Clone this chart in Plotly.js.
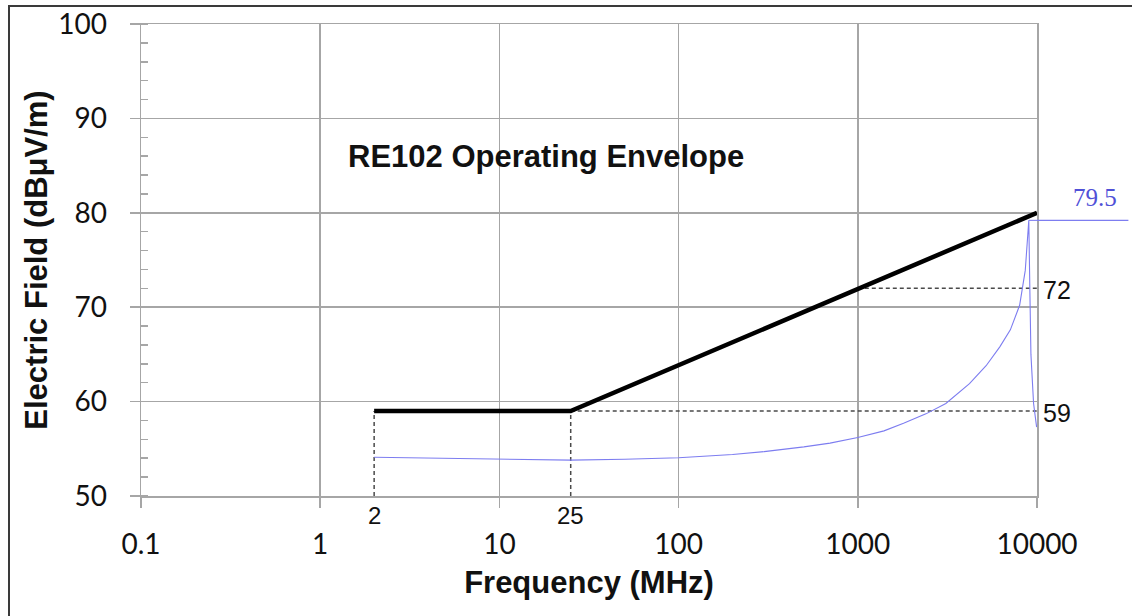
<!DOCTYPE html>
<html>
<head>
<meta charset="utf-8">
<script src="https://cdn.plot.ly/plotly-3.0.1.min.js"></script>
<style>
  html, body { margin: 0; padding: 0; background: #fff; }
  #wrap { position: relative; width: 1132px; height: 616px; overflow: hidden; }
  #chart { position: absolute; left: 0; top: 0; width: 1132px; height: 616px; }
  #frame { position: absolute; left: 8px; top: 5px; width: 1200px; height: 700px;
           border-left: 2px solid #3a3a3a; border-top: 2px solid #3a3a3a; pointer-events: none; }
</style>
</head>
<body>
<div id="wrap"><div id="chart"></div><div id="frame"></div></div>
<script>
// ---- data ----
const xTickVals = [0.1, 1, 10, 100, 1000, 10000];
const xTickText = ['0.1', '1', '10', '100', '1000', '10000'];

// RE102 limit envelope (MHz, dBµV/m)
const envFreq = [2, 25, 10000];
const envLevel = [59, 59, 80];

// dashed reference lines
const refVert2Freq = [2, 2];
const refVert2Level = [50, 59];
const refVert25Freq = [25, 25];
const refVert25Level = [50, 59];
const ref59Freq = [25, 10000];
const ref59Level = [59, 59];
const ref72Freq = [1000, 10000];
const ref72Level = [72, 72];

// blue measured/response curve
const measFreq = [2, 5, 10, 25, 50, 100, 200, 300, 500, 700, 1000, 1400, 1800, 2400, 3100, 4200, 5200, 6200, 7100, 8000, 8600, 8950, 9000, 9120, 9250, 9570, 9950];
const measLevel = [54.1, 54.0, 53.9, 53.8, 53.9, 54.05, 54.4, 54.7, 55.2, 55.6, 56.2, 56.9, 57.7, 58.7, 59.8, 61.9, 63.8, 65.8, 67.6, 70.2, 73.9, 78.5, 79.2, 72, 65, 59.8, 57.3];

// peak marker line
const peakFreq = [9000, 10000];
const peakLevelLine = [79.2, 79.2];
const peakLabel = '79.5';

// text labels
const freqMarks = [2, 25];
const freqMarkText = ['2', '25'];
const levelMarks = [72, 59];
const levelMarkText = ['72', '59'];

const gridCol = '#a6a6a6';
const dashCol = '#4a4a4a';
const blueCol = 'rgb(125,125,240)';

const traces = [
  { x: refVert2Freq, y: refVert2Level, mode: 'lines', line: { color: dashCol, width: 1.5, dash: '4px,3px' }, hoverinfo: 'skip' },
  { x: refVert25Freq, y: refVert25Level, mode: 'lines', line: { color: dashCol, width: 1.5, dash: '4px,3px' }, hoverinfo: 'skip' },
  { x: ref59Freq, y: ref59Level, mode: 'lines', line: { color: dashCol, width: 1.5, dash: '4px,3px' }, hoverinfo: 'skip' },
  { x: ref72Freq, y: ref72Level, mode: 'lines', line: { color: dashCol, width: 1.5, dash: '4px,3px' }, hoverinfo: 'skip' },
  { x: measFreq, y: measLevel, mode: 'lines', line: { color: blueCol, width: 1.1 }, name: 'measured' },
  { x: peakFreq, y: peakLevelLine, mode: 'lines', line: { color: blueCol, width: 1.1 }, hoverinfo: 'skip' },
  { x: envFreq, y: envLevel, mode: 'lines', line: { color: '#000', width: 4.5 }, name: 'RE102' }
];

const annotations = [
  { xref: 'paper', yref: 'paper', x: 0.229, y: 0.72, xanchor: 'left', yanchor: 'middle',
    text: 'RE102 Operating Envelope', showarrow: false,
    font: { family: 'Liberation Sans, Arial, sans-serif', size: 31, color: '#111', weight: 'bold' } },
  { xref: 'paper', yref: 'y', x: 1.065, y: peakLevelLine[0], yshift: 23, xanchor: 'center', yanchor: 'middle',
    text: peakLabel, showarrow: false,
    font: { family: 'Liberation Serif, Times New Roman, serif', size: 25, color: 'rgb(80,80,215)' } }
];
freqMarks.forEach((f, i) => annotations.push({
  xref: 'x', yref: 'y', x: Math.log10(f), y: 50, yshift: -19, xanchor: 'center', yanchor: 'middle',
  text: freqMarkText[i], showarrow: false,
  font: { family: 'Liberation Sans, Arial, sans-serif', size: 24, color: '#111' }
}));
levelMarks.forEach((v, i) => annotations.push({
  xref: 'paper', yref: 'y', x: 1.005, y: v, yshift: -2, xanchor: 'left', yanchor: 'middle',
  text: levelMarkText[i], showarrow: false,
  font: { family: 'Liberation Sans, Arial, sans-serif', size: 25, color: '#111' }
}));

const shapes = [
  { type: 'line', xref: 'paper', yref: 'y', x0: 1, x1: 1.102, y0: peakLevelLine[0], y1: peakLevelLine[1],
    line: { color: blueCol, width: 1.1 } }
];

const tickFont = { family: 'Lato, Liberation Sans, sans-serif', size: 28, color: '#111' };
const titleFont = { family: 'Liberation Sans, Arial, sans-serif', size: 31, color: '#111', weight: 'bold' };

const layout = {
  width: 1132, height: 616,
  margin: { l: 141, r: 95, t: 24, b: 120 },
  paper_bgcolor: '#fff', plot_bgcolor: '#fff',
  showlegend: false,
  xaxis: {
    type: 'log', range: [-1, 4],
    tickmode: 'array', tickvals: xTickVals, ticktext: xTickText,
    showgrid: true, gridcolor: gridCol, gridwidth: 1.5,
    showline: true, linecolor: gridCol, linewidth: 1.5, mirror: true,
    ticks: 'outside', ticklen: 10, tickwidth: 1.5, tickcolor: gridCol,
    ticklabelstandoff: 13,
    tickfont: tickFont, zeroline: false,
    title: { text: 'Frequency (MHz)', font: titleFont, standoff: 12 }
  },
  yaxis: {
    range: [50, 100], tick0: 50, dtick: 10,
    showgrid: true, gridcolor: gridCol, gridwidth: 1.5,
    showline: true, linecolor: gridCol, linewidth: 1.5, mirror: true,
    ticks: 'outside', ticklen: 10, tickwidth: 1.5, tickcolor: gridCol,
    ticklabelstandoff: 17,
    tickfont: tickFont, zeroline: false,
    minor: { dtick: 2, tick0: 50, ticks: 'inside', ticklen: 7, tickwidth: 1.5, tickcolor: gridCol, showgrid: false },
    title: { text: 'Electric Field (dBμV/m)', font: titleFont, standoff: 1 }
  },
  annotations: annotations,
  shapes: shapes
};

Plotly.newPlot('chart', traces, layout, { displayModeBar: false, staticPlot: true });
</script>
</body>
</html>
